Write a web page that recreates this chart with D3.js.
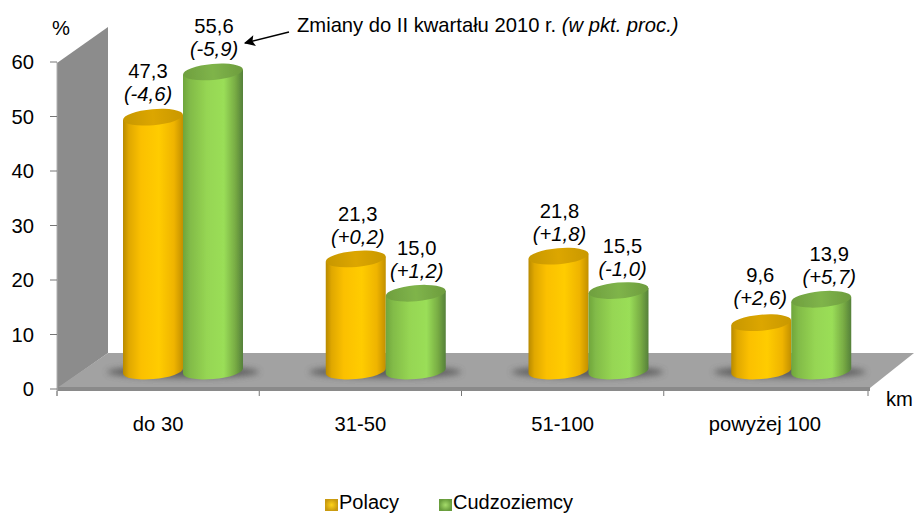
<!DOCTYPE html>
<html><head><meta charset="utf-8">
<script src="https://cdn.jsdelivr.net/npm/d3@7/dist/d3.min.js"></script>
<style>html,body{margin:0;padding:0;background:#fff}svg{display:block}text{font-family:"Liberation Sans",Arial,sans-serif;fill:#000}</style>
</head><body><svg id="c" width="914" height="513"></svg>
<script>
const categories = ["do 30","31-50","51-100","powyżej 100"];
const seriesNames = ["Polacy","Cudzoziemcy"];
const polacy = [47.3,21.3,21.8,9.6];
const cudzoziemcy = [55.6,15.0,15.5,13.9];
const polacyChange = ["(-4,6)","(+0,2)","(+1,8)","(+2,6)"];
const cudzoziemcyChange = ["(-5,9)","(+1,2)","(-1,0)","(+5,7)"];
const yTicks = [0,10,20,30,40,50,60];
const annotation = "Zmiany do II kwartału 2010 r. ";
const annotationItalic = "(w pkt. proc.)";

const fmt = v => v.toFixed(1).replace(".", ",");
const W=914,H=513, depthX=51, depthY=36, fs=20.2;
const svg = d3.select("#c");
const y = d3.scaleLinear().domain([0,60]).range([389,62]);
const x0 = d3.scaleBand().domain(categories).range([57,866]);
const x1 = d3.scaleBand().domain(seriesNames).range([0,120]);
const barShift = 66, topLift = 14, baseY = y(0)-18, rx=30, ry=8;

const defs = svg.append("defs");
function hGrad(id,stops){
  const g=defs.append("linearGradient").attr("id",id).attr("x1",0).attr("x2",1).attr("y1",0).attr("y2",0);
  stops.forEach(s=>g.append("stop").attr("offset",s[0]).attr("stop-color",s[1]));
}
hGrad("orange",[[0,"#b88a00"],[.1,"#e0a800"],[.3,"#fbc000"],[.6,"#ffcc00"],[.85,"#efb400"],[1,"#c29000"]]);
hGrad("green",[[0,"#6fa53c"],[.12,"#82bb48"],[.4,"#96d653"],[.68,"#9ade58"],[.87,"#78ac44"],[1,"#55803a"]]);
hGrad("orangeTop",[[0,"#c79700"],[.5,"#dca600"],[1,"#c99800"]]);
hGrad("greenTop",[[0,"#6f9f3f"],[.5,"#7fb44a"],[1,"#6d9c3e"]]);
const sw=(id,c1,c2)=>{const g=defs.append("radialGradient").attr("id",id);
  g.append("stop").attr("offset",0).attr("stop-color",c1);g.append("stop").attr("offset",1).attr("stop-color",c2);};
sw("swO","#ffd31a","#c99a10"); sw("swG","#a5dc6a","#689c3c");
defs.append("filter").attr("id","blur").attr("x","-30%").attr("y","-100%").attr("width","160%").attr("height","300%")
  .append("feGaussianBlur").attr("stdDeviation",3);
defs.append("filter").attr("id","soft").append("feGaussianBlur").attr("stdDeviation",0.5);
const mk=defs.append("marker").attr("id","arr").attr("viewBox","0 0 10 10").attr("refX",9).attr("refY",5)
  .attr("markerWidth",15).attr("markerHeight",11).attr("markerUnits","userSpaceOnUse").attr("orient","auto");
mk.append("path").attr("d","M0,0L10,5L0,10L2,5Z").attr("fill","#000");

// wall, floor
const x00=57, x01=868, y00=y(0), y60=y(yTicks[yTicks.length-1]);
const plate=svg.append("g").attr("filter","url(#soft)");
plate.append("path").attr("fill","#8c8c8c")
  .attr("d",`M${x00},${y60+1}L${x00+depthX},${y60-depthY+1}V${y00-depthY}L${x00},${y00}Z`);
plate.append("path").attr("fill","#a2a2a2")
  .attr("d",`M${x00},${y00-1}L${x00+depthX},${y00-depthY}H${W}L${x01+2},${y00-1}Z`);
plate.append("rect").attr("x",x00).attr("y",y00-2).attr("width",x01-x00+2).attr("height",4).attr("fill","#8a8a8a");

// axes ticks
const axisCol="#777";
svg.append("line").attr("x1",x00).attr("x2",x00).attr("y1",y60).attr("y2",y00+7).attr("stroke","#b0b0b0");
svg.selectAll("line.yt").data(yTicks).join("line").attr("class","yt")
  .attr("x1",50).attr("x2",x00).attr("y1",d=>y(d)).attr("y2",d=>y(d)).attr("stroke",axisCol);
svg.selectAll("text.yl").data(yTicks).join("text").attr("class","yl")
  .attr("x",34).attr("y",d=>y(d)).attr("dy","0.35em").attr("text-anchor","end").attr("font-size",fs).text(d=>d);
const xTickPos=[...categories.map(c=>x0(c)),x0.range()[1]+2];
svg.selectAll("line.xt").data(xTickPos).join("line").attr("class","xt")
  .attr("x1",d=>d).attr("x2",d=>d).attr("y1",y00+2).attr("y2",y00+7).attr("stroke",axisCol);
svg.selectAll("text.xl").data(categories).join("text").attr("class","xl")
  .attr("x",d=>x0(d)+x0.bandwidth()/2).attr("y",431).attr("text-anchor","middle").attr("font-size",fs).text(d=>d);
svg.append("text").attr("x",52).attr("y",35).attr("font-size",fs).text("%");
svg.append("text").attr("x",886).attr("y",406).attr("font-size",fs).text("km");

// bars
const rows=[];
categories.forEach((c,i)=>{
  rows.push({c,i,s:seriesNames[0],v:polacy[i],ch:polacyChange[i],grad:"orange",top:"orangeTop"});
  rows.push({c,i,s:seriesNames[1],v:cudzoziemcy[i],ch:cudzoziemcyChange[i],grad:"green",top:"greenTop"});
});
const cx=d=>x0(d.c)+barShift+x1(d.s)+x1.bandwidth()/2+ d.i*0.5;
const topY=d=>y(d.v)-topLift;
// shadows
svg.selectAll("ellipse.sh").data(categories).join("ellipse").attr("class","sh")
  .attr("cx",d=>x0(d)+barShift+60).attr("cy",baseY+1).attr("rx",76).attr("ry",6)
  .attr("fill","#4e4e4e").attr("opacity",.8).attr("filter","url(#blur)");
const bars=svg.selectAll("g.bar").data(rows).join("g").attr("class","bar").attr("filter","url(#soft)");
bars.append("path").attr("fill",d=>`url(#${d.grad})`).attr("d",d=>{
  const c=cx(d),t=topY(d),tilt=2.5;
  return `M${c-rx},${t+tilt}L${c-rx},${baseY+tilt}A${rx},${ry} -5 0 0 ${c+rx},${baseY-tilt}L${c+rx},${t-tilt}Z`;
});
bars.append("ellipse").attr("fill",d=>`url(#${d.top})`).attr("cx",cx).attr("cy",topY).attr("rx",rx).attr("ry",ry)
  .attr("transform",d=>`rotate(-5 ${cx(d)} ${topY(d)})`);

// labels
const labelDx=[-5,1,2,1,1,4,-1,8];
const labelDy=[-1,-1,0,0,0,0,-3,0];
const lab=svg.selectAll("g.lab").data(rows).join("g").attr("class","lab")
  .attr("transform",(d,i)=>`translate(${cx(d)+labelDx[i]},${topY(d)+labelDy[i]})`).attr("text-anchor","middle").attr("font-size",fs);
lab.append("text").attr("y",-45).attr("dy","0.35em").text(d=>fmt(d.v));
lab.append("text").attr("y",-22).attr("dy","0.35em").attr("font-style","italic").text(d=>d.ch);

// annotation
const an=svg.append("text").attr("x",297).attr("y",32).attr("font-size",20.2).style("white-space","pre");
an.append("tspan").text(annotation);
an.append("tspan").attr("font-style","italic").text(annotationItalic);
svg.append("line").attr("x1",289).attr("y1",32).attr("x2",245).attr("y2",43).attr("stroke","#000").attr("stroke-width",1.5).attr("marker-end","url(#arr)");

// legend
const legX=[325,439], legF=["url(#swO)","url(#swG)"];
const leg=svg.selectAll("g.leg").data(seriesNames).join("g").attr("class","leg").attr("transform",(d,i)=>`translate(${legX[i]},499)`);
leg.append("rect").attr("width",13).attr("height",12).attr("fill",(d,i)=>legF[i]);
leg.append("text").attr("x",14).attr("y",9.5).attr("dy",".4").attr("font-size",20).text(d=>d);
</script></body></html>
